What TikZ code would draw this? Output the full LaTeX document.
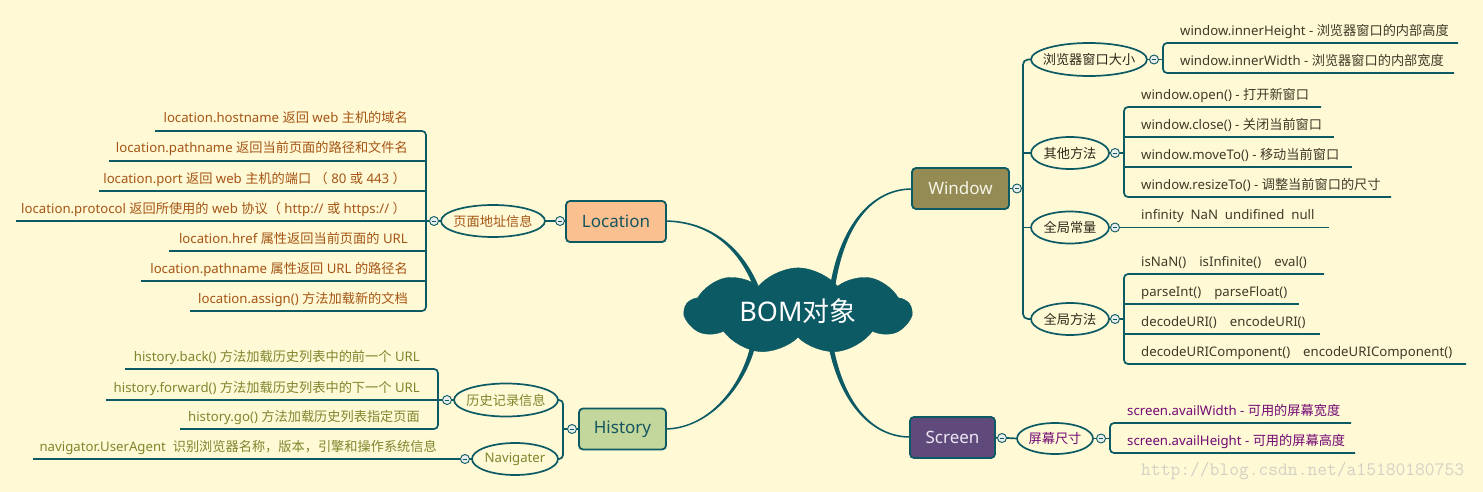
\documentclass[tikz,border=0pt]{standalone}
\usepackage{fontspec}
\setmainfont{Noto Sans}
\newfontfamily\cjkfont{Noto Sans CJK SC}
\newfontfamily\latfont{Noto Sans}
\usetikzlibrary{shapes.geometric,shapes.symbols}
% automatic switching Latin <-> CJK font
\newcount\mycnt
\mycnt=0
\loop \XeTeXcharclass\mycnt=0 \advance\mycnt 1 \ifnum\mycnt<"3000 \repeat
\mycnt="3000
\loop \XeTeXcharclass\mycnt=7 \advance\mycnt 1 \ifnum\mycnt<"3040 \repeat
\mycnt="4E00
\loop \XeTeXcharclass\mycnt=7 \advance\mycnt 1 \ifnum\mycnt<"A000 \repeat
\mycnt="FF00
\loop \XeTeXcharclass\mycnt=7 \advance\mycnt 1 \ifnum\mycnt<"FFF0 \repeat
\XeTeXinterchartoks 0 7 = {\cjkfont}
\XeTeXinterchartoks 4095 7 = {\cjkfont}
\XeTeXinterchartoks 7 0 = {\latfont}
\XeTeXinterchartoks 7 4095 = {\latfont}
\XeTeXinterchartokenstate=1

\definecolor{bg}{RGB}{255,249,214}
\definecolor{teal0}{RGB}{12,90,99}
\definecolor{teal1}{RGB}{20,85,95}
\definecolor{locfill}{RGB}{250,192,144}
\definecolor{winfill}{RGB}{148,138,84}
\definecolor{hisfill}{RGB}{195,214,155}
\definecolor{scrfill}{RGB}{96,74,123}
\definecolor{wintext}{RGB}{245,245,232}
\definecolor{scrtext}{RGB}{235,230,245}
\definecolor{locc}{RGB}{165,85,20}
\definecolor{hisc}{RGB}{125,135,45}
\definecolor{winc}{RGB}{64,58,40}
\definecolor{wine}{RGB}{45,40,25}
\definecolor{scrc}{RGB}{115,10,115}
\definecolor{togfill}{RGB}{232,238,236}
\definecolor{wm}{RGB}{212,209,196}

\tikzset{
  ln/.style={draw=teal0, line width=1.7},
  eln/.style={draw=teal0, line width=1.7},
  taper/.style={fill=teal0},
  box/.style={rectangle, draw=teal0, line width=1.8, rounded corners=4,
    minimum height=41, inner sep=0, font=\fontsize{17}{20}\selectfont},
  ell/.style={rectangle, inner sep=0, font=\cjkfont\fontsize{13.2}{15}\selectfont},
  tog/.style={circle, draw=teal0, line width=0.9, fill=togfill, minimum size=9, inner sep=0,
    path picture={\draw[teal0, line width=0.8]
      ([xshift=-2.4pt]path picture bounding box.center) --
      ([xshift=2.4pt]path picture bounding box.center);}},
  leaf/.style={inner sep=0, font=\fontsize{13.2}{15}\selectfont},
}

\begin{document}
\begin{tikzpicture}[x=1pt,y=-1pt]
\fill[bg] (0,0) rectangle (1483,492);
\useasboundingbox (0,0) rectangle (1483,492);

% ---------- main topic boxes ----------
\node[box, fill=locfill, text=teal1, minimum width=100] (Loc) at (616,221.5) {Location};
\node[box, fill=winfill, text=wintext, minimum width=97] (Win) at (960.5,188.5) {Window};
\node[box, fill=hisfill, text=teal1, minimum width=87] (His) at (622.5,429) {History};
\node[box, fill=scrfill, text=scrtext, minimum width=85] (Scr) at (952.5,437.5) {Screen};

% ---------- tapered connectors to the cloud ----------
\fill[taper] (666,220.25) .. controls (712,221.1) and (743.8,249.2) .. (759.3,288)
  -- (754.7,290) .. controls (740.2,250.8) and (712,222.9) .. (666,221.75) -- cycle;
\fill[taper] (830.5,283.5) .. controls (841,224.6) and (872,188.1) .. (912,188.25)
  -- (912,189.75) .. controls (872,189.9) and (845,225.4) .. (835.5,284.5) -- cycle;
\fill[taper] (666,428.25) .. controls (710,427.3) and (743.2,384.4) .. (751.6,340.25)
  -- (756.4,341.75) .. controls (746.8,385.6) and (710,428.7) .. (666,429.75) -- cycle;
\fill[taper] (832.45,340.55) .. controls (842,399.6) and (870,436.1) .. (910,436.25)
  -- (910,437.75) .. controls (870,437.9) and (838,400.4) .. (827.55,341.45) -- cycle;

% ---------- central cloud ----------
\node[cloud, cloud puffs=9, cloud puff arc=100, aspect=2.6, fill=teal0, draw=teal0,
  text=white, minimum width=226, minimum height=86, inner sep=0,
  font=\fontsize{27}{30}\selectfont] (bom) at (798,311) {BOM对象};

% ---------- Location branch ----------
\node[ell, text=locc, minimum width=104, minimum height=32] (eLoc) at (493,221) {页面地址信息};
\draw[eln] (eLoc.center) ellipse [x radius=52, y radius=16];
\node[tog] (tLoc1) at (560,221) {};
\node[tog] (tLoc2) at (434,221) {};
\draw[ln] (eLoc.east) -- (tLoc1.west);
\draw[ln] (tLoc1.east) -- (Loc.west);
\draw[ln] (eLoc.west) -- (tLoc2.east);
\draw[ln] (tLoc2.west) -- (16,221);
\draw[ln, rounded corners=4] (155,131) -- (426,131) -- (426,311) -- (190,311);
\draw[ln] (109,161) -- (426,161);
\draw[ln] (99,191) -- (426,191);
\draw[ln] (169,251) -- (426,251);
\draw[ln] (141,281) -- (426,281);
\node[leaf, text=locc, anchor=base east] (l1) at (408,123) {location.hostname 返回 web 主机的域名};
\node[leaf, text=locc, anchor=base east] (l2) at (408,153) {location.pathname 返回当前页面的路径和文件名};
\node[leaf, text=locc, anchor=base east] (l3) at (406,183) {location.port 返回 web 主机的端口 （ 80 或 443 ）};
\node[leaf, text=locc, anchor=base east] (l4) at (406,213) {location.protocol 返回所使用的 web 协议（ http:// 或 https:// ）};
\node[leaf, text=locc, anchor=base east] (l5) at (408,243) {location.href 属性返回当前页面的 URL};
\node[leaf, text=locc, anchor=base east] (l6) at (408,273) {location.pathname 属性返回 URL 的路径名};
\node[leaf, text=locc, anchor=base east] (l7) at (408,303) {location.assign() 方法加载新的文档};

% ---------- History branch ----------
\node[ell, text=hisc, minimum width=104, minimum height=33] (eHis) at (506,400) {历史记录信息};
\draw[eln] (eHis.center) ellipse [x radius=52, y radius=16.5];
\node[ell, text=hisc, font=\latfont\fontsize{13.2}{15}\selectfont, minimum width=86, minimum height=32] (eNav) at (515,459) {Navigater};
\draw[eln] (eNav.center) ellipse [x radius=43, y radius=16];
\node[tog] (tHis) at (572,429) {};
\draw[ln] (His.west) -- (tHis.east);
\draw[ln, rounded corners=4] (eHis.east) -- (563,400) -- (563,459) -- (eNav.east);
\draw[ln] (tHis.west) -- (563,429);
\node[tog] (tHis2) at (447,400) {};
\draw[ln] (eHis.west) -- (tHis2.east);
\draw[ln] (tHis2.west) -- (106,400);
\draw[ln, rounded corners=4] (125,369) -- (438,369) -- (438,429) -- (180,429);
\node[tog] (tNav) at (465,459) {};
\draw[ln] (eNav.west) -- (tNav.east);
\draw[ln] (tNav.west) -- (33,459);
\node[leaf, text=hisc, anchor=base east] (h1) at (420,361) {history.back() 方法加载历史列表中的前一个 URL};
\node[leaf, text=hisc, anchor=base east] (h2) at (420,392) {history.forward() 方法加载历史列表中的下一个 URL};
\node[leaf, text=hisc, anchor=base east] (h3) at (420,421) {history.go() 方法加载历史列表指定页面};
\node[leaf, text=hisc, anchor=base east] (n1) at (437,451) {navigator.UserAgent~ 识别浏览器名称，版本，引擎和操作系统信息};

% ---------- Window branch ----------
\node[tog] (tWin) at (1017,188.5) {};
\draw[ln] (Win.east) -- (tWin.west);
\node[ell, text=wine, minimum width=116, minimum height=33] (e1) at (1089,59.5) {浏览器窗口大小};
\draw[eln] (e1.center) ellipse [x radius=58, y radius=16.5];
\node[ell, text=wine, minimum width=78, minimum height=32] (e2) at (1070,153) {其他方法};
\draw[eln] (e2.center) ellipse [x radius=39, y radius=16];
\node[ell, text=wine, minimum width=78, minimum height=32] (e3) at (1070,227.5) {全局常量};
\draw[eln] (e3.center) ellipse [x radius=39, y radius=16];
\node[ell, text=wine, minimum width=78, minimum height=32] (e4) at (1070,319) {全局方法};
\draw[eln] (e4.center) ellipse [x radius=39, y radius=16];
\draw[ln, rounded corners=5] (e1.west) -- (1023,59.5) -- (1023,319) -- (e4.west);
\draw[ln] (tWin.east) -- (1023,188.5);
\draw[ln] (1023,153) -- (e2.west);
\draw[ln] (1023,227.5) -- (e3.west);
\node[tog] (t1) at (1154,59.5) {};
\node[tog] (t2) at (1115,153) {};
\node[tog] (t3) at (1115,227.5) {};
\node[tog] (t4) at (1115,319) {};
% window size
\draw[ln] (e1.east) -- (t1.west);
\draw[ln] (t1.east) -- (1163,59.5);
\draw[ln, rounded corners=4] (1458,43) -- (1163,43) -- (1163,73) -- (1454,73);
\node[leaf, text=winc, anchor=base west] (w1) at (1180,35.5) {window.innerHeight - 浏览器窗口的内部高度};
\node[leaf, text=winc, anchor=base west] (w2) at (1180,65.5) {window.innerWidth - 浏览器窗口的内部宽度};
% other methods
\draw[ln] (e2.east) -- (t2.west);
\draw[ln] (t2.east) -- (1124,153);
\draw[ln, rounded corners=4] (1321,107) -- (1124,107) -- (1124,197) -- (1391,197);
\draw[ln] (1124,137) -- (1334,137);
\draw[ln] (1124,167) -- (1352,167);
\node[leaf, text=winc, anchor=base west] (w3) at (1141,99.5) {window.open() - 打开新窗口};
\node[leaf, text=winc, anchor=base west] (w4) at (1141,129.5) {window.close() - 关闭当前窗口};
\node[leaf, text=winc, anchor=base west] (w5) at (1141,159.5) {window.moveTo() - 移动当前窗口};
\node[leaf, text=winc, anchor=base west] (w6) at (1141,189.5) {window.resizeTo() - 调整当前窗口的尺寸};
% constants
\draw[ln] (e3.east) -- (t3.west);
\draw[ln] (t3.east) -- (1329,227.5);
\node[leaf, text=winc, anchor=base west] (w7) at (1141,219.5) {infinity~ NaN~ undifined~ null};
% global methods
\draw[ln] (e4.east) -- (t4.west);
\draw[ln] (t4.east) -- (1124,319);
\draw[ln, rounded corners=4] (1324,274) -- (1124,274) -- (1124,364) -- (1466,364);
\draw[ln] (1124,304) -- (1299,304);
\draw[ln] (1124,334) -- (1320,334);
\node[leaf, text=winc, anchor=base west] (w8) at (1141,266.5) {isNaN()\hspace{13pt}isInfinite()\hspace{13pt}eval()};
\node[leaf, text=winc, anchor=base west] (w9) at (1141,296.5) {parseInt()\hspace{13pt}parseFloat()};
\node[leaf, text=winc, anchor=base west] (w10) at (1141,326.5) {decodeURI()\hspace{13pt}encodeURI()};
\node[leaf, text=winc, anchor=base west] (w11) at (1141,356.5) {decodeURIComponent()\hspace{13pt}encodeURIComponent()};

% ---------- Screen branch ----------
\node[tog] (tScr) at (1002,438) {};
\draw[ln] (Scr.east) -- (tScr.west);
\node[ell, text=scrc, minimum width=76, minimum height=31] (eScr) at (1055,438.5) {屏幕尺寸};
\draw[eln] (eScr.center) ellipse [x radius=38, y radius=15.5];
\draw[ln] (tScr.east) -- (eScr.west);
\node[tog] (tScr2) at (1101,438.5) {};
\draw[ln] (eScr.east) -- (tScr2.west);
\draw[ln] (tScr2.east) -- (1110,438.5);
\draw[ln, rounded corners=4] (1351,423) -- (1110,423) -- (1110,453) -- (1355,453);
\node[leaf, text=scrc, anchor=base west] (s1) at (1127,415.5) {screen.availWidth - 可用的屏幕宽度};
\node[leaf, text=scrc, anchor=base west] (s2) at (1127,445.5) {screen.availHeight - 可用的屏幕高度};

% ---------- watermark ----------
\node[inner sep=0, anchor=west, text=wm, font=\ttfamily\fontsize{19}{20}\selectfont] (wmk) at (1141,471) {http://blog.csdn.net/a15180180753};
\end{tikzpicture}
\end{document}
